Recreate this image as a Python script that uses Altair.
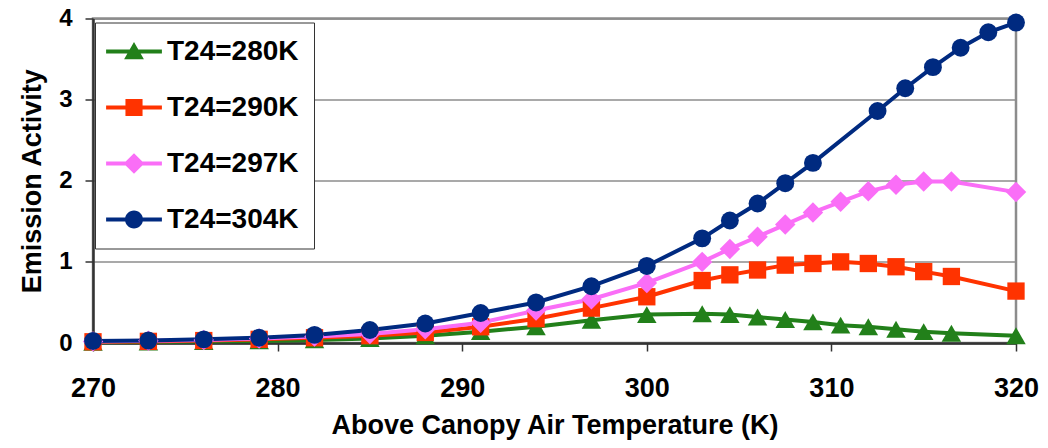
import altair as alt
import pandas as pd

# ---- data ----
temps = [270, 273, 276, 279, 282, 285, 288, 291, 294, 297, 300, 303, 304.5, 306,
         307.5, 309, 310.5, 312, 313.5, 315, 316.5, 320]
temps_304 = [270, 273, 276, 279, 282, 285, 288, 291, 294, 297, 300, 303, 304.5, 306,
             307.5, 309, 312.5, 314, 315.5, 317, 318.5, 320]

v280 = [0.01, 0.012, 0.018, 0.026, 0.038, 0.055, 0.09, 0.14, 0.20, 0.28, 0.35, 0.36,
        0.35, 0.32, 0.29, 0.26, 0.22, 0.20, 0.17, 0.14, 0.12, 0.09]
v290 = [0.015, 0.02, 0.03, 0.045, 0.065, 0.09, 0.13, 0.20, 0.30, 0.43, 0.57, 0.77,
        0.84, 0.90, 0.96, 0.98, 1.00, 0.98, 0.94, 0.88, 0.82, 0.64]
v297 = [0.02, 0.027, 0.038, 0.055, 0.08, 0.11, 0.17, 0.25, 0.40, 0.54, 0.74, 1.00,
        1.16, 1.31, 1.46, 1.61, 1.74, 1.87, 1.95, 1.99, 1.99, 1.86]
v304 = [0.025, 0.03, 0.045, 0.065, 0.10, 0.16, 0.24, 0.37, 0.50, 0.70, 0.95, 1.29,
        1.51, 1.72, 1.97, 2.22, 2.86, 3.14, 3.40, 3.64, 3.83, 3.95]

series_names = ["T24=280K", "T24=290K", "T24=297K", "T24=304K"]
series_x = [temps, temps, temps, temps_304]
series_y = [v280, v290, v297, v304]

colors = ["#22801a", "#ff3300", "#fa6ef7", "#002a80"]
shapes = ["triangle-up", "square", "diamond", "circle"]
marker_sizes = [380, 300, 420, 320]

x_ticks = [270, 280, 290, 300, 310, 320]
y_ticks = [0, 1, 2, 3, 4]

# legend symbols: a line segment with the marker on it
BAR = "M-3.1,-0.22H3.1V0.22H-3.1Z "
legend_paths = [
    BAR + "M0,-1.05L1.1,0.85L-1.1,0.85Z",
    BAR + "M-0.95,-0.95H0.95V0.95H-0.95Z",
    BAR + "M0,-1.15L1.15,0L0,1.15L-1.15,0Z",
    BAR + "M1,0A1,1,0,1,1,-1,0A1,1,0,1,1,1,0Z",
]

rows = []
for i, name in enumerate(series_names):
    for xv, yv in zip(series_x[i], series_y[i]):
        rows.append({"series": name, "T": xv, "A": yv, "msize": marker_sizes[i]})
df = pd.DataFrame(rows)

FONT = "Liberation Sans"

x_enc = alt.X(
    "T:Q",
    scale=alt.Scale(domain=[270, 320], nice=False, zero=False),
    axis=alt.Axis(values=x_ticks, title="Above Canopy Air Temperature (K)", grid=False,
                  labelPadding=24, titlePadding=11, format="d", labelFlush=False,
                  labelFontSize=27),
)
y_enc = alt.Y(
    "A:Q",
    scale=alt.Scale(domain=[0, 4], nice=False),
    axis=alt.Axis(values=y_ticks, title="Emission Activity", grid=True,
                  labelPadding=13, titlePadding=12, format="d", labelFlush=False,
                  labelFontSize=24),
)

color_scale = alt.Scale(domain=series_names, range=colors)

lines = alt.Chart(df).mark_line(strokeWidth=4).encode(
    x=x_enc, y=y_enc,
    color=alt.Color("series:N", scale=color_scale, legend=None),
)

points = alt.Chart(df).mark_point(filled=True, opacity=1, strokeWidth=0).encode(
    x=x_enc, y=y_enc,
    color=alt.Color("series:N", scale=color_scale, legend=None),
    shape=alt.Shape("series:N", scale=alt.Scale(domain=series_names, range=shapes), legend=None),
    size=alt.Size("msize:Q", scale=None),
)

leg = alt.Legend(
    title=None, orient="none", legendX=2, legendY=4,
    padding=15, rowPadding=28, labelFontSize=28, labelFont=FONT,
    labelFontWeight="bold", labelColor="black", symbolSize=324,
    symbolStrokeWidth=0, symbolOffset=10, labelOffset=19,
    strokeColor="#333333", fillColor="white", labelLimit=0,
)

legend_layer = alt.Chart(df).transform_filter("datum.A < -1").mark_point(
    filled=True, opacity=1
).encode(
    x=x_enc, y=y_enc,
    color=alt.Color("series:N", scale=color_scale, legend=leg),
    shape=alt.Shape("series:N", scale=alt.Scale(domain=series_names, range=legend_paths), legend=leg),
)

chart = (
    alt.layer(lines, points, legend_layer)
    .resolve_scale(color="independent", shape="independent")
    .properties(
        width=923, height=324.5,
        padding={"left": 85, "top": 10.5, "right": 24, "bottom": 97},
        autosize=alt.AutoSizeParams(type="none"),
        background="white",
    )
    .configure_axis(
        labelFont=FONT, labelFontWeight="bold", labelColor="black",
        titleFont=FONT, titleFontSize=27, titleFontWeight="bold", titleColor="black",
        domainColor="#333333", domainWidth=2.5, tickColor="#333333", tickWidth=1.5,
        tickSize=8, gridColor="#8c8c8c", gridWidth=1.5,
    )
    .configure_view(stroke="#8c8c8c", strokeWidth=2.5)
)

chart.save("out.html", embed_options={"renderer": "svg", "actions": False})
